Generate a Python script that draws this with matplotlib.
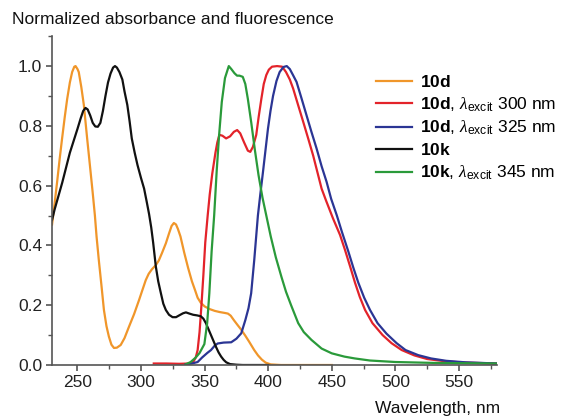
import numpy as np
import matplotlib
matplotlib.use("Agg")
import matplotlib.pyplot as plt

plt.rcParams['font.family'] = ['Liberation Sans', 'DejaVu Sans']
plt.rcParams['mathtext.fontset'] = 'custom'
plt.rcParams['mathtext.rm'] = 'Liberation Sans'
plt.rcParams['mathtext.bf'] = 'Liberation Sans:bold'
plt.rcParams['mathtext.it'] = 'Liberation Serif:italic'

# 10d absorbance
abs_10d_x = [230, 232, 234, 236, 237.9, 240, 241.9, 244, 245.8, 247.5, 248.5, 250, 251, 253, 255,
             257.6, 260.3, 262, 263.7, 265, 266.8, 269, 270.8, 272.8, 274.7, 276.7, 278.7, 281, 284,
             287, 290.5, 294.5, 298.4, 301, 303.7, 306, 308.5, 311.6, 314, 316.5, 319.5, 322, 324,
             325.8, 327.5, 329, 331, 334, 337, 340, 342.5, 344.5, 347, 350, 354, 358, 362, 366,
             368.3, 370.5, 373, 375.5, 378.8, 382, 385, 389, 392, 395, 398, 402, 410, 450]
abs_10d_y = [0.47, 0.54, 0.613, 0.69, 0.758, 0.83, 0.89, 0.945, 0.98, 0.998, 1.0, 0.99, 0.98, 0.93, 0.87,
             0.758, 0.646, 0.575, 0.50, 0.43, 0.35, 0.26, 0.184, 0.13, 0.095, 0.068, 0.057, 0.058, 0.067,
             0.09, 0.128, 0.17, 0.217, 0.25, 0.284, 0.305, 0.32, 0.334, 0.35, 0.375, 0.407, 0.44, 0.465,
             0.475, 0.47, 0.455, 0.43, 0.375, 0.325, 0.28, 0.25, 0.225, 0.208, 0.196, 0.187, 0.181, 0.177, 0.174,
             0.172, 0.165, 0.15, 0.136, 0.118, 0.098, 0.078, 0.05, 0.032, 0.018, 0.008, 0.002, 0.0, 0.0]

# 10d emission, excitation 300 nm
em_10d_300_x = [310, 320, 330, 338, 341, 343, 344.5, 346, 347.5, 349, 350.5, 352.4, 354, 356, 358.5,
                360, 361.6, 364, 366.9, 370, 373, 375.6, 378, 381, 384, 385.9, 388, 390.6, 392.5, 394.6,
                396.5, 398.5, 400.5, 403, 407, 411, 414, 417, 419.6, 423.5, 427.5, 431.5, 435.4, 438.7, 442,
                445.5, 451, 456.5, 460.4, 464.4, 468.3, 472, 476.2, 482, 490, 497, 505, 515,
                525, 540, 555, 580]
em_10d_300_y = [0.005, 0.005, 0.004, 0.005, 0.01, 0.025, 0.05, 0.11, 0.2, 0.3, 0.41, 0.50, 0.57, 0.64, 0.71,
                0.745, 0.77, 0.767, 0.758, 0.765, 0.78, 0.786, 0.775, 0.745, 0.717, 0.713, 0.73, 0.77, 0.83, 0.89,
                0.94, 0.97, 0.988, 0.998, 1.0, 0.998, 0.98, 0.955, 0.925, 0.87, 0.814, 0.757, 0.70, 0.645, 0.59,
                0.55, 0.49, 0.435, 0.385, 0.33, 0.275, 0.228, 0.184, 0.14, 0.10, 0.073, 0.05, 0.032,
                0.02, 0.012, 0.008, 0.005]

# 10d emission, excitation 325 nm
em_10d_325_x = [335, 340, 344.5, 348, 352, 355, 358, 360.3, 365, 370.9, 375, 378.8, 382, 384.5, 386.6,
                389, 391.9, 393.9, 395.9, 397.9, 399.8, 401.8, 403.8, 406.5, 409, 412, 414.6, 417, 419.5,
                422.3, 426, 430.1, 434, 438, 442, 445.9, 449.5, 454, 458, 463, 467, 470.9, 475.5, 480.1,
                486, 493, 501, 508, 518, 528, 540, 555, 580]
em_10d_325_y = [0.002, 0.005, 0.01, 0.025, 0.04, 0.05, 0.065, 0.072, 0.075, 0.076, 0.088, 0.106, 0.15, 0.19, 0.24,
                0.35, 0.50, 0.575, 0.646, 0.72, 0.79, 0.85, 0.90, 0.95, 0.98, 0.997, 1.0, 0.99, 0.97,
                0.947, 0.895, 0.836, 0.78, 0.725, 0.665, 0.613, 0.556, 0.50, 0.445, 0.38, 0.325, 0.275, 0.225, 0.184,
                0.14, 0.105, 0.073, 0.05, 0.033, 0.022, 0.014, 0.009, 0.005]

# 10k absorbance
abs_10k_x = [230, 232, 235, 238, 241, 244, 247, 250, 252.5, 254.5, 256.3, 258, 260, 262, 264,
             266, 268, 270, 272, 274, 276, 278, 279.5, 281, 283, 285.3, 287, 289.2, 291, 292.7,
             295, 297.2, 300, 302.4, 304.5, 306.3, 308, 309.5, 311.6, 313.5, 315.6, 317.5, 319.5, 322, 324.8,
             327.5, 330, 333, 335.3, 338, 341, 344, 347, 349, 351, 353, 355, 357, 359,
             361, 363, 365, 367, 370, 375, 380, 400]
abs_10k_y = [0.485, 0.52, 0.565, 0.61, 0.66, 0.71, 0.75, 0.79, 0.825, 0.85, 0.86, 0.855, 0.835, 0.81, 0.798,
             0.797, 0.81, 0.85, 0.90, 0.945, 0.975, 0.995, 1.0, 0.995, 0.98, 0.955, 0.915, 0.87, 0.815, 0.758,
             0.71, 0.669, 0.625, 0.59, 0.545, 0.505, 0.46, 0.41, 0.33, 0.28, 0.24, 0.205, 0.184, 0.168, 0.16,
             0.16, 0.166, 0.173, 0.176, 0.172, 0.168, 0.166, 0.163, 0.155, 0.14, 0.12, 0.10, 0.08, 0.06,
             0.042, 0.028, 0.017, 0.009, 0.003, 0.001, 0.0, 0.0]

# 10k emission, excitation 345 nm
em_10k_345_x = [335, 339, 343, 346, 349.8, 352, 353.7, 355.5, 357.5, 359.5, 361.4, 363.5, 366, 369, 371,
                373.5, 375.5, 377.4, 380, 382, 384, 386.7, 389.5, 392.4, 395.5, 398.5, 402, 406, 410.4, 414,
                418, 423.6, 428, 434, 442, 450, 460, 468, 480, 500, 530, 580]
em_10k_345_y = [0.002, 0.01, 0.025, 0.04, 0.07, 0.14, 0.24, 0.38, 0.50, 0.65, 0.77, 0.88, 0.96, 1.0, 0.99,
                0.976, 0.968, 0.968, 0.964, 0.94, 0.89, 0.81, 0.72, 0.635, 0.56, 0.50, 0.43, 0.36, 0.295, 0.245,
                0.20, 0.14, 0.11, 0.084, 0.055, 0.039, 0.028, 0.022, 0.015, 0.01, 0.007, 0.005]

fig = plt.figure(figsize=(5.72, 4.16), dpi=100)
ax = fig.add_axes([0.091, 0.1226, 0.778, 0.7904])

lw = 1.6
ax.plot(abs_10d_x, abs_10d_y, color='#f0962a', lw=lw, label=r'$\mathbf{10d}$')
ax.plot(em_10d_300_x, em_10d_300_y, color='#e3232a', lw=lw,
        label=r'$\mathbf{10d}$, $\lambda_{\mathrm{excit}}$ 300 nm')
ax.plot(em_10d_325_x, em_10d_325_y, color='#2b3594', lw=lw,
        label=r'$\mathbf{10d}$, $\lambda_{\mathrm{excit}}$ 325 nm')
ax.plot(abs_10k_x, abs_10k_y, color='#111111', lw=lw, label=r'$\mathbf{10k}$')
ax.plot(em_10k_345_x, em_10k_345_y, color='#2a9a3a', lw=lw,
        label=r'$\mathbf{10k}$, $\lambda_{\mathrm{excit}}$ 345 nm')

ax.set_xlim(230, 580)
ax.set_ylim(0, 1.1)
ax.set_xticks([250, 300, 350, 400, 450, 500, 550])
ax.set_xticks(np.arange(250, 580, 25), minor=True)
ax.set_yticks([0.0, 0.2, 0.4, 0.6, 0.8, 1.0])
ax.set_yticks(np.arange(0, 1.11, 0.1), minor=True)
ax.set_yticklabels(['0.0', '0.2', '0.4', '0.6', '0.8', '1.0'])

for s in ['top', 'right']:
    ax.spines[s].set_visible(False)
for s in ['left', 'bottom']:
    ax.spines[s].set_color('#555555')
    ax.spines[s].set_linewidth(1.2)
ax.tick_params(which='major', direction='out', length=4, width=1.2, color='#555555',
               labelsize=12.5, labelcolor='#222222', pad=3)
ax.tick_params(which='minor', direction='out', length=3, width=1.0, color='#555555')

fig.text(0.021, 0.952, 'Normalized absorbance and fluorescence', fontsize=12.5,
         ha='left', va='center', color='#111111')
fig.text(0.875, 0.018, 'Wavelength, nm', fontsize=12.5, ha='right', va='center', color='#111111')

ax.legend(loc='upper left', bbox_to_anchor=(0.728, 0.885), frameon=False, fontsize=12.5,
          handlelength=2.1, handletextpad=0.45, labelspacing=0.3, borderpad=0, borderaxespad=0)

fig.savefig('out.png', dpi=100)
